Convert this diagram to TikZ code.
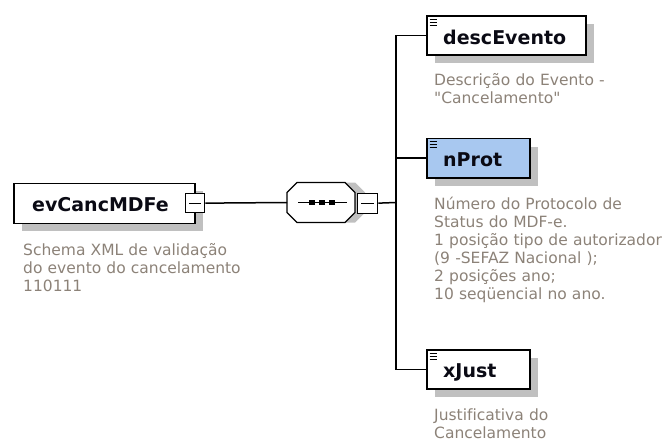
\documentclass[tikz,border=0pt]{standalone}
\usepackage{fontspec}
\setmainfont{DejaVu Sans}[Ligatures={TeXOff,CommonOff}]
\usetikzlibrary{shadows}
\definecolor{shadowgray}{RGB}{192,192,192}
\definecolor{desccol}{RGB}{140,130,120}
\definecolor{namecol}{RGB}{10,10,20}
\definecolor{selblue}{RGB}{168,200,240}
\begin{document}
\begin{tikzpicture}[x=1pt,y=-1pt,
  elembox/.style={draw=black, line width=1.5pt, fill=white, inner sep=0pt, anchor=north west,
    drop shadow={fill=shadowgray, opacity=1, shadow xshift=8pt, shadow yshift=-8pt}},
  minusbox/.style={draw=black, line width=1.3pt, fill=white, inner sep=0pt, anchor=north west,
    minimum width=19pt, minimum height=19pt},
  elemname/.style={font=\bfseries\fontsize{19}{22}\selectfont, anchor=base west, inner sep=0pt, text=namecol},
  elemdesc/.style={font=\fontsize{15.5}{18}\selectfont, anchor=base west, inner sep=0pt, text=desccol,
    align=left, text width=240pt},
  conn/.style={line width=1.5pt},
  icon/.style={line width=1pt}
]
\useasboundingbox (0,0) rectangle (672,441);

% ---------- root element ----------
\node[elembox, minimum width=181pt, minimum height=40pt] (root) at (13,182.5) {};
\node[elemname] (rootname) at (32,211) {evCancMDFe};
\node[minusbox] (rootm) at (185,193) {};
\draw[line width=1.2pt] ([xshift=4pt]rootm.west) -- ([xshift=-4pt]rootm.east);
\node[elemdesc] (rootdesc) at (23,255) {Schema XML de validação\\do evento do cancelamento\\110111};

% ---------- sequence compositor ----------
\coordinate (seqW) at (287,202.5);
\coordinate (seqE) at (355,202.5);
\fill[shadowgray] (297,202.5)+(0,-10) -- +(10,-20) -- +(58,-20) -- +(68,-10) -- +(68,10) -- +(58,20) -- +(10,20) -- +(0,10) -- cycle;
\draw[line width=1.4pt, fill=white] (seqW)+(0,-10) -- +(10,-20) -- +(58,-20) -- +(68,-10) -- +(68,10) -- +(58,20) -- +(10,20) -- +(0,10) -- cycle;
\draw[line width=1.2pt] (298,202.5) -- (347,202.5);
\foreach \cx in {312,322,332} \fill (\cx-2.7,200) rectangle (\cx+2.7,205);
\node[minusbox, minimum width=20pt, minimum height=20pt] (seqm) at (357,192.5) {};
\draw[line width=1.2pt] ([xshift=4pt]seqm.west) -- ([xshift=-4pt]seqm.east);
\coordinate (bar) at (396,202.5);

% ---------- child elements ----------
\node[elembox, minimum width=159pt, minimum height=39pt] (descbox) at (426,15.5) {};
\node[elemname] (descname) at (443,44.5) {descEvento};
\node[elemdesc] (descdesc) at (434,86) {Descrição do Evento -\\"Cancelamento"};

\node[elembox, fill=selblue, minimum width=103pt, minimum height=39pt] (nprotbox) at (426,138) {};
\node[elemname] (nprotname) at (443,166.5) {nProt};
\node[elemdesc] (nprotdesc) at (434,209) {Número do Protocolo de\\Status do MDF-e.\\1 posição tipo de autorizador\\(9 -SEFAZ Nacional );\\2 posições ano;\\10 seqüencial no ano.};

\node[elembox, minimum width=103pt, minimum height=39pt] (xjustbox) at (426,349) {};
\node[elemname] (xjustname) at (443,377.5) {xJust};
\node[elemdesc] (xjustdesc) at (434,420) {Justificativa do\\Cancelamento};

% icons
\foreach \b in {descbox,nprotbox,xjustbox}{
  \draw[icon] ([xshift=3.5pt,yshift=-4pt]\b.north west) -- ++(7.5,0);
  \draw[icon] ([xshift=3.5pt,yshift=-7pt]\b.north west) -- ++(7,0);
  \draw[icon] ([xshift=3.5pt,yshift=-10pt]\b.north west) -- ++(7,0);
}

% ---------- connectors ----------
\draw[conn] (rootm.east) -- (seqW);
\draw[conn] (seqm.east) -- (bar);
\draw[conn] (descbox.west) -- (descbox.west -| bar) |- (xjustbox.west);
\draw[conn] (nprotbox.west) -- (nprotbox.west -| bar);
\end{tikzpicture}
\end{document}
